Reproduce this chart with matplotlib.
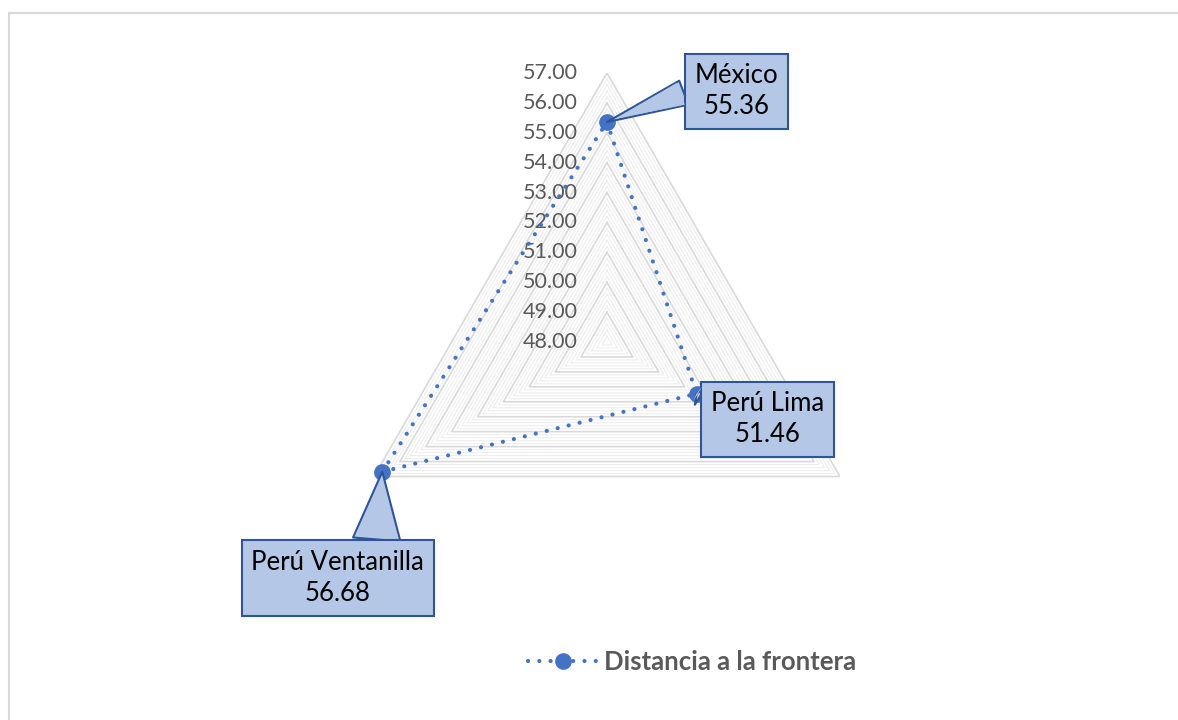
import numpy as np
import matplotlib.pyplot as plt
from matplotlib.patches import Rectangle
from matplotlib.lines import Line2D

# ----------------------------- Data -----------------------------
categories = ["México", "Perú Lima", "Perú Ventanilla"]
values = [55.36, 51.46, 56.68]
series_name = "Distancia a la frontera"
r_min, r_max = 48.0, 57.0

# --------------------------- Plot style --------------------------
plt.rcParams["font.family"] = ["Lato", "DejaVu Sans"]
BLUE = "#4472C4"
BOX_FC = "#B4C7E7"
BOX_EC = "#2F5597"
GRID_MAJ = "#D9D9D9"
GRID_MIN = "#EEEEEE"
TXT_GREY = "#595959"
DOTS = (0, (0.01, 2.7))

fig = plt.figure(figsize=(11.78, 7.2), dpi=100)
ax = fig.add_axes([0.2869, 0.1514, 0.4567, 0.7472], projection="polar")
ax.set_theta_zero_location("N")
ax.set_theta_direction(-1)
ax.set_rlim(r_min, r_max)
ax.set_xticks([]); ax.set_yticks([])
ax.grid(False)
ax.spines["polar"].set_visible(False)
ax.set_facecolor("none")

n = len(categories)
theta = np.arange(n) * 2 * np.pi / n
theta_c = np.append(theta, theta[0])

# triangular grid: minor every 0.2, major every 1.0
minor = np.round(np.arange(r_min + 0.2, r_max, 0.2), 2)
major = np.arange(r_min + 1, r_max + 0.5, 1.0)
for r in minor:
    if abs(r - round(r)) < 1e-6:
        continue
    ax.plot(theta_c, [r] * (n + 1), color=GRID_MIN, lw=0.8, zorder=1)
for r in major:
    ax.plot(theta_c, [r] * (n + 1), color=GRID_MAJ, lw=1.2, zorder=2)

# axis value labels along the top spoke
for v in np.arange(r_min, r_max + 0.5, 1.0):
    ax.annotate(f"{v:.2f}", xy=(0, v), xytext=(-21, 0), textcoords="offset points",
                ha="right", va="center", fontsize=15.5, color=TXT_GREY,
                annotation_clip=False, zorder=3)

# series
vals_c = values + values[:1]
ax.plot(theta_c, vals_c, color=BLUE, lw=3, linestyle=DOTS,
        dash_capstyle="round", zorder=4)
ax.plot(theta, values, "o", color=BLUE, ms=11, zorder=5)

# callouts (box + pointer, then a fill-only pointer to hide the seam)
offsets = [(93, 22), (51, -18.5), (-32, -76.5)]
tails = [1.0, 0.8, 1.85]
anchors = [(0.0, 0.55), (0.0, 0.8), (0.72, 1.0)]
for th, v, name, off, tw, rp in zip(theta, values, categories, offsets, tails, anchors):
    label = f"{name}\n{v:.2f}"
    kw = dict(xy=(th, v), xytext=off, textcoords="offset points",
              ha="center", va="center", fontsize=18.5, linespacing=1.3,
              annotation_clip=False)
    ax.annotate(label, color="black", zorder=6,
                bbox=dict(boxstyle="square,pad=0.38", fc=BOX_FC, ec=BOX_EC, lw=1.5),
                arrowprops=dict(arrowstyle=f"wedge,tail_width={tw},shrink_factor=0.5",
                                fc=BOX_FC, ec=BOX_EC, lw=1.5, shrinkA=0, shrinkB=0,
                                relpos=rp), **kw)
    ax.annotate(label, color="none", zorder=7,
                bbox=dict(boxstyle="square,pad=0.38", fc="none", ec="none", lw=1.5),
                arrowprops=dict(arrowstyle=f"wedge,tail_width={tw * 0.9},shrink_factor=0.5",
                                fc=BOX_FC, ec="none", lw=0, shrinkA=-3, shrinkB=6,
                                relpos=rp), **kw)

# legend
h = Line2D([], [], color=BLUE, lw=3, linestyle=DOTS,
           dash_capstyle="round", marker="o", ms=11)
leg = fig.legend([h], [series_name], loc="center", bbox_to_anchor=(692 / 1178, 58 / 720),
                 frameon=False, handlelength=2.7, handletextpad=0.25,
                 prop=dict(size=18.5, weight="bold"))
for t in leg.get_texts():
    t.set_color(TXT_GREY)

# chart border
fig.patches.append(Rectangle((9 / 1178, -0.1), 1.2, 1.0 - 13 / 720 + 0.1,
                             transform=fig.transFigure, fill=False,
                             ec=GRID_MAJ, lw=1.5))

fig.savefig("out.png", dpi=100)
